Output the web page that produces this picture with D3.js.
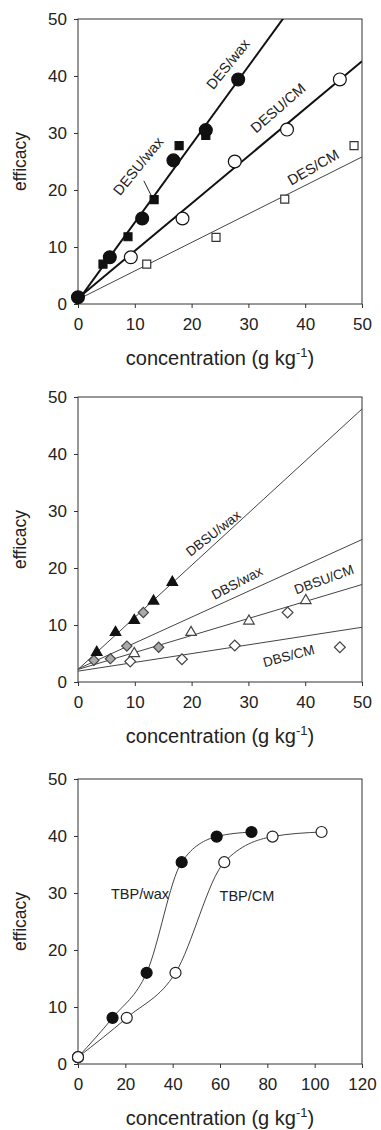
<!DOCTYPE html>
<html>
<head>
<meta charset="utf-8">
<script src="https://cdn.jsdelivr.net/npm/d3@7/dist/d3.min.js"></script>
<style>
  body { margin: 0; background: #fff; }
  svg text { font-family: "Liberation Sans", Arial, sans-serif; fill: #222; }
  .axis path, .axis line { stroke: #333; }
</style>
</head>
<body>
<svg id="chart" width="381" height="1130"></svg>
<script>
// ---- panel 1 data (DES / DESU) ----
var desWaxX = [0, 5.6, 11.3, 16.8, 22.5, 28.2];
var desWaxY = [1.2, 8.2, 15.0, 25.2, 30.5, 39.4];
var desuWaxX = [4.4, 8.8, 13.4, 17.8, 22.5];
var desuWaxY = [7.0, 11.8, 18.3, 27.8, 29.6];
var desuCmX = [9.3, 18.4, 27.6, 36.8, 46.1];
var desuCmY = [8.2, 15.0, 25.0, 30.6, 39.4];
var desCmX = [12.1, 24.3, 36.4, 48.6];
var desCmY = [7.0, 11.7, 18.4, 27.8];
var fit1Names = ["DES/wax", "DESU/CM", "DES/CM"];
var fit1Slope = [1.37, 0.832, 0.50];
var fit1Icpt = [0.6, 1.0, 0.8];

// ---- panel 2 data (DBS / DBSU) ----
var dbsuWaxX = [3.3, 6.6, 9.9, 13.3, 16.6];
var dbsuWaxY = [5.2, 8.7, 10.8, 14.2, 17.5];
var dbsWaxX = [2.8, 5.7, 8.6, 11.5, 14.2];
var dbsWaxY = [3.8, 4.1, 6.3, 12.2, 6.1];
var dbsuCmX = [9.9, 19.9, 30.1, 40.1];
var dbsuCmY = [5.0, 8.7, 10.7, 14.3];
var dbsCmX = [9.2, 18.3, 27.6, 36.9, 46.1];
var dbsCmY = [3.6, 4.0, 6.4, 12.2, 6.1];
var fit2Names = ["DBSU/wax", "DBS/wax", "DBSU/CM", "DBS/CM"];
var fit2Slope = [0.914, 0.454, 0.298, 0.154];
var fit2Icpt = [2.2, 2.3, 2.2, 1.9];

// ---- panel 3 data (TBP) ----
var tbpWaxX = [0, 14.6, 29.0, 43.8, 58.6, 73.3];
var tbpWaxY = [1.2, 8.1, 16.0, 35.4, 39.9, 40.7];
var tbpCmX = [0, 20.6, 41.2, 61.8, 82.2, 102.9];
var tbpCmY = [1.2, 8.1, 16.0, 35.4, 39.9, 40.7];

var yTicks = [0, 10, 20, 30, 40, 50];
var xTicks12 = [0, 10, 20, 30, 40, 50];
var xTicks3 = [0, 20, 40, 60, 80, 100, 120];

var svg = d3.select("#chart");
var left = 78, width = 284, height = 285;

function zip(xs, ys) {
  return xs.map(function(x, i) { return [x, ys[i]]; });
}

function panel(top, xMax, xTicks, id) {
  var x = d3.scaleLinear().domain([0, xMax]).range([0, width]);
  var y = d3.scaleLinear().domain([0, 50]).range([height, 0]);
  var g = svg.append("g").attr("transform", "translate(" + left + "," + top + ")");

  g.append("clipPath").attr("id", "clip" + id)
    .append("rect").attr("width", width).attr("height", height);

  var xAxis = d3.axisBottom(x).tickValues(xTicks).tickSize(4).tickPadding(10).tickSizeOuter(0);
  var yAxis = d3.axisLeft(y).tickValues(yTicks).tickSize(4).tickPadding(7).tickSizeOuter(0);

  g.append("g").attr("class", "axis")
    .attr("transform", "translate(0," + height + ")")
    .call(xAxis)
    .call(function(a) { a.select(".domain").remove(); })
    .selectAll("text").style("font-size", "17px").attr("fill", "#222");
  g.append("g").attr("class", "axis")
    .call(yAxis)
    .call(function(a) { a.select(".domain").remove(); })
    .selectAll("text").style("font-size", "17px").attr("fill", "#222");

  g.append("rect")
    .attr("width", width).attr("height", height)
    .attr("fill", "none").attr("stroke", "#333").attr("stroke-width", 1);

  // axis titles
  var xt = g.append("text")
    .attr("x", width / 2).attr("y", height + 61)
    .attr("text-anchor", "middle")
    .style("font-size", "20px")
    .text("concentration (g kg");
  xt.append("tspan").attr("dy", -8).style("font-size", "13px").text("-1");
  xt.append("tspan").attr("dy", 8).text(")");

  g.append("text")
    .attr("transform", "translate(" + (26 - left) + "," + (height / 2) + ") rotate(-90)")
    .attr("text-anchor", "middle")
    .style("font-size", "17.5px")
    .text("efficacy");

  var plot = g.append("g").attr("clip-path", "url(#clip" + id + ")");
  return { g: g, plot: plot, x: x, y: y };
}

function fitLines(p, slopes, icpts, widths, colors) {
  var xMax = p.x.domain()[1];
  p.plot.selectAll("line.fit")
    .data(slopes)
    .enter()
    .append("line")
    .attr("class", "fit")
    .attr("x1", p.x(0))
    .attr("y1", function(d, i) { return p.y(icpts[i]); })
    .attr("x2", p.x(xMax))
    .attr("y2", function(d, i) { return p.y(icpts[i] + d * xMax); })
    .attr("stroke", function(d, i) { return colors[i]; })
    .attr("stroke-width", function(d, i) { return widths[i]; });
}

function points(p, pts, type, size, fill, stroke, rot) {
  p.g.selectAll(null)
    .data(pts)
    .enter()
    .append("path")
    .attr("d", d3.symbol().type(type).size(size))
    .attr("transform", function(d) {
      return "translate(" + p.x(d[0]) + "," + p.y(d[1]) + ")" + (rot ? " rotate(" + rot + ")" : "");
    })
    .attr("fill", fill)
    .attr("stroke", stroke)
    .attr("stroke-width", 1.2);
}

function label(p, txt, dx, dy, angle, size) {
  p.g.append("text")
    .attr("transform", "translate(" + p.x(dx) + "," + p.y(dy) + ") rotate(" + angle + ")")
    .attr("text-anchor", "middle")
    .attr("dy", "0.35em")
    .style("font-size", size + "px")
    .text(txt);
}

// ---------- panel 1 ----------
var p1 = panel(19, 50, xTicks12, 1);
fitLines(p1, fit1Slope, fit1Icpt, [2, 2, 1], ["#111", "#111", "#444"]);
points(p1, zip(desCmX, desCmY), d3.symbolSquare, 64, "#fff", "#333");
points(p1, zip(desuCmX, desuCmY), d3.symbolCircle, 130, "#fff", "#111");
points(p1, zip(desuWaxX, desuWaxY), d3.symbolSquare, 64, "#111", "#111");
points(p1, zip(desWaxX, desWaxY), d3.symbolCircle, 130, "#111", "#111");
label(p1, "DES/wax", 26.4, 42.1, -51, 14.5);
label(p1, "DESU/CM", 35.2, 34.4, -41, 14.5);
label(p1, "DES/CM", 41.4, 24.0, -30, 14.5);
label(p1, "DESU/wax", 10.6, 24.2, -51, 14.5);
p1.g.append("line")
  .attr("x1", p1.x(11.6)).attr("y1", p1.y(21.6))
  .attr("x2", p1.x(12.9)).attr("y2", p1.y(19.0))
  .attr("stroke", "#222").attr("stroke-width", 1);

// ---------- panel 2 ----------
var p2 = panel(397, 50, xTicks12, 2);
fitLines(p2, fit2Slope, fit2Icpt, [1, 1, 1, 1], ["#444", "#444", "#444", "#444"]);
points(p2, zip(dbsCmX, dbsCmY), d3.symbolSquare, 58, "#fff", "#444", 45);
points(p2, zip(dbsuCmX, dbsuCmY), d3.symbolTriangle, 48, "#fff", "#444");
points(p2, zip(dbsWaxX, dbsWaxY), d3.symbolSquare, 52, "#aaa", "#444", 45);
points(p2, zip(dbsuWaxX, dbsuWaxY), d3.symbolTriangle, 48, "#111", "#111");
label(p2, "DBSU/wax", 23.8, 26.1, -38, 13.5);
label(p2, "DBS/wax", 28.0, 17.4, -28, 13.5);
label(p2, "DBSU/CM", 43.3, 18.0, -20, 13.5);
label(p2, "DBS/CM", 37.1, 4.6, -15, 13.5);

// ---------- panel 3 ----------
var p3 = panel(779, 120, xTicks3, 3);
var curve = d3.line()
  .x(function(d) { return p3.x(d[0]); })
  .y(function(d) { return p3.y(d[1]); })
  .curve(d3.curveMonotoneX);
p3.plot.append("path").attr("d", curve(zip(tbpWaxX, tbpWaxY)))
  .attr("fill", "none").attr("stroke", "#444").attr("stroke-width", 1);
p3.plot.append("path").attr("d", curve(zip(tbpCmX, tbpCmY)))
  .attr("fill", "none").attr("stroke", "#444").attr("stroke-width", 1);
points(p3, zip(tbpWaxX, tbpWaxY), d3.symbolCircle, 95, "#111", "#111");
points(p3, zip(tbpCmX, tbpCmY), d3.symbolCircle, 95, "#fff", "#222");
label(p3, "TBP/wax", 26.2, 29.9, 0, 14.5);
label(p3, "TBP/CM", 71.4, 29.4, 0, 14.5);
</script>
</body>
</html>
